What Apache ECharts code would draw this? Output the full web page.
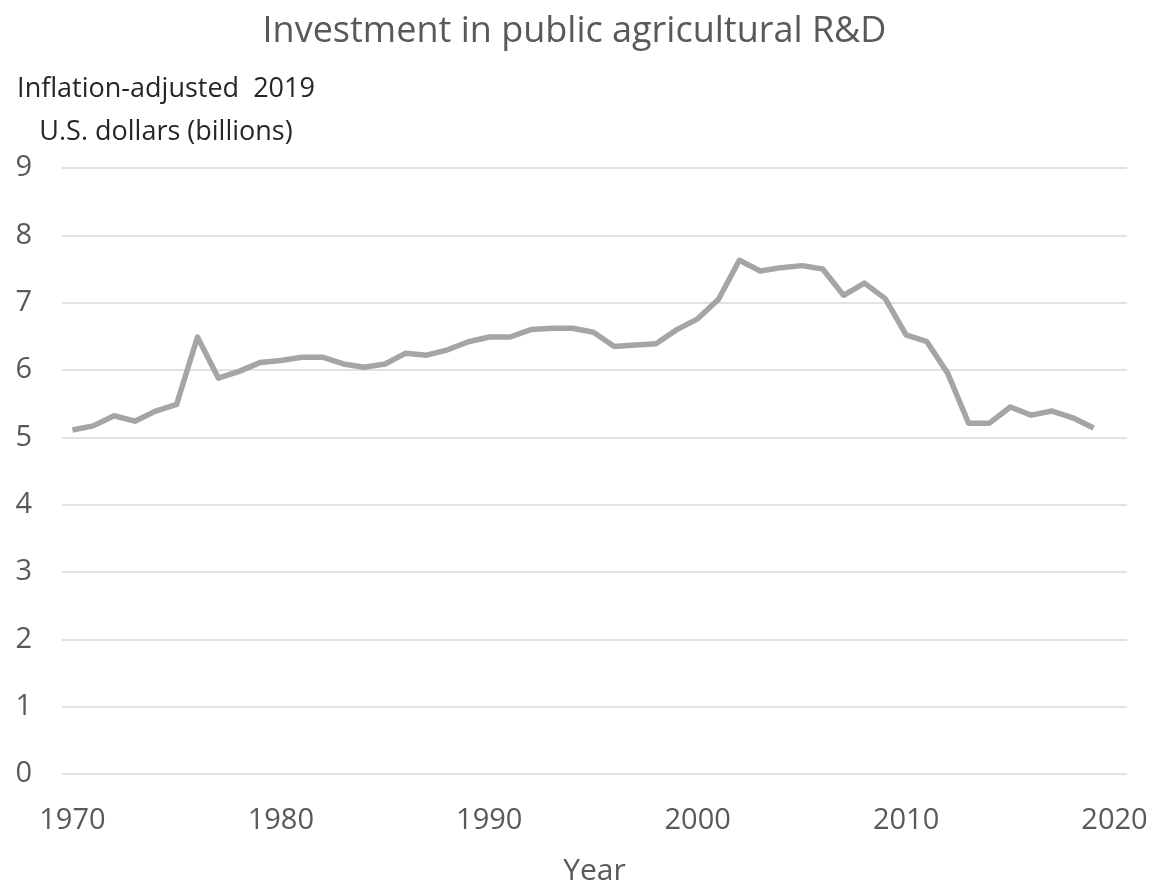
<!DOCTYPE html>
<html>
<head>
<meta charset="utf-8">
<title>Investment in public agricultural R&amp;D</title>
<script src="https://cdn.jsdelivr.net/npm/echarts@6/dist/echarts.min.js"></script>
<style>
  html, body { margin: 0; padding: 0; background: #ffffff; }
  #chart { width: 1149px; height: 885px; }
</style>
</head>
<body>
<div id="chart"></div>
<script>
// Public agricultural R&D spending, inflation-adjusted 2019 US$ (billions)
const years = [
  1970, 1971, 1972, 1973, 1974, 1975, 1976, 1977, 1978, 1979,
  1980, 1981, 1982, 1983, 1984, 1985, 1986, 1987, 1988, 1989,
  1990, 1991, 1992, 1993, 1994, 1995, 1996, 1997, 1998, 1999,
  2000, 2001, 2002, 2003, 2004, 2005, 2006, 2007, 2008, 2009,
  2010, 2011, 2012, 2013, 2014, 2015, 2016, 2017, 2018, 2019
];
const spending = [
  5.11, 5.17, 5.32, 5.24, 5.39, 5.49, 6.49, 5.88, 5.98, 6.11,
  6.14, 6.19, 6.19, 6.09, 6.04, 6.09, 6.25, 6.22, 6.30, 6.42,
  6.49, 6.49, 6.60, 6.62, 6.62, 6.56, 6.35, 6.37, 6.39, 6.60,
  6.76, 7.05, 7.63, 7.47, 7.52, 7.55, 7.50, 7.11, 7.29, 7.06,
  6.52, 6.42, 5.95, 5.21, 5.21, 5.45, 5.33, 5.39, 5.29, 5.14
];
const xTicks = [1970, 1980, 1990, 2000, 2010, 2020];

const chartTitle = 'Investment in public agricultural R&D';
const yTitle = 'Inflation-adjusted  2019\nU.S. dollars (billions)';
const xTitle = 'Year';

const FONT = '"Open Sans", "Noto Sans", sans-serif';

const chart = echarts.init(document.getElementById('chart'), null, { renderer: 'canvas' });

chart.setOption({
  animation: false,
  backgroundColor: '#ffffff',
  title: {
    text: chartTitle,
    left: 'center',
    top: 9,
    textStyle: { fontFamily: FONT, fontSize: 36, fontWeight: 'normal', color: '#595959' }
  },
  graphic: [{
    // two-line unit caption above the value axis, centred on itself
    type: 'text',
    x: 166,
    y: 68,
    style: {
      text: yTitle,
      font: '27px ' + FONT,
      fill: '#262626',
      align: 'center',
      verticalAlign: 'top',
      lineHeight: 43
    }
  }],
  grid: {
    left: 62, right: 22, top: 168, bottom: 111,
    containLabel: false,
    outerBoundsMode: 'none'
  },
  xAxis: {
    type: 'value',
    min: 1969.5,
    max: 2020.6,
    name: xTitle,
    nameLocation: 'middle',
    nameGap: 82,
    nameTextStyle: { fontFamily: FONT, fontSize: 30, color: '#595959' },
    axisLine: { show: false },
    axisTick: { show: false },
    splitLine: { show: false },
    axisLabel: {
      customValues: xTicks,
      margin: 32,
      fontFamily: FONT,
      fontSize: 29,
      color: '#595959',
      formatter: v => String(v)
    }
  },
  yAxis: {
    type: 'value',
    min: 0,
    max: 9,
    interval: 1,
    axisLine: { show: false },
    axisTick: { show: false },
    splitLine: { lineStyle: { color: '#d9d9d9', width: 1.5 } },
    axisLabel: {
      margin: 30,
      fontFamily: FONT,
      fontSize: 29,
      color: '#595959'
    }
  },
  series: [{
    type: 'line',
    data: years.map((y, i) => [y, spending[i]]),
    showSymbol: false,
    lineStyle: { color: '#a5a5a5', width: 5.5, join: 'round' },
    itemStyle: { color: '#a5a5a5' }
  }]
});
</script>
</body>
</html>
